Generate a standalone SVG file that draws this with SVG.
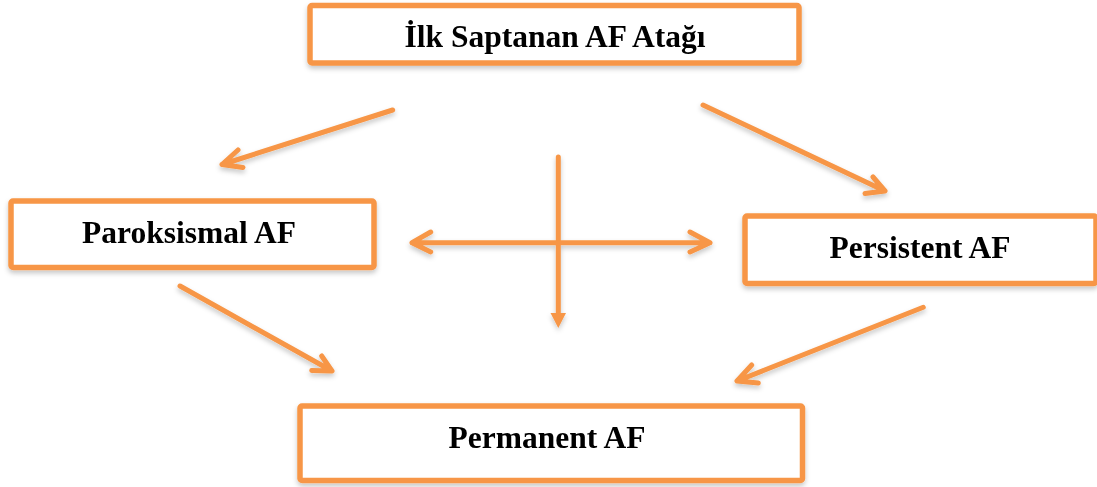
<svg xmlns="http://www.w3.org/2000/svg" width="1097" height="487" viewBox="0 0 1097 487">
  <style>
    .box { fill: #ffffff; stroke: #F79646; stroke-width: 5.5; }
    .lbl { font-family: "Liberation Serif", "Times New Roman", serif; font-weight: bold; font-size: 31.5px; fill: #000000; text-anchor: middle; }
    .ln { fill: none; stroke: #F79646; stroke-width: 5; stroke-linecap: round; stroke-linejoin: round; }
    .hd { fill: #F79646; stroke: none; }
  </style>
  <defs>
    <filter id="sh" x="-20%" y="-20%" width="140%" height="160%">
      <feDropShadow dx="0" dy="3" stdDeviation="2.5" flood-color="#000000" flood-opacity="0.22"/>
    </filter>
  </defs>
  <rect width="1097" height="487" fill="#ffffff"/>

  <g id="node-ilk" filter="url(#sh)">
    <rect class="box" x="310" y="5.5" width="489" height="57.5" rx="2"/>
    <text class="lbl" x="555" y="46.5">İlk Saptanan AF Atağı</text>
  </g>

  <g id="node-paroksismal" filter="url(#sh)">
    <rect class="box" x="11" y="201" width="363" height="66.5" rx="2"/>
    <text class="lbl" x="189" y="243">Paroksismal AF</text>
  </g>

  <g id="node-persistent" filter="url(#sh)">
    <rect class="box" x="745" y="216" width="351" height="67.5" rx="2"/>
    <text class="lbl" x="920" y="258.3">Persistent AF</text>
  </g>

  <g id="node-permanent" filter="url(#sh)">
    <rect class="box" x="300" y="406" width="502.5" height="74.5" rx="2"/>
    <text class="lbl" x="547" y="448">Permanent AF</text>
  </g>

  <g id="connectors" filter="url(#sh)">
    <!-- top to paroksismal -->
    <path class="ln" d="M392.7,110 L222,164.5 M238,150 L222,164.5 L243,167.5"/>
    <!-- top to persistent -->
    <path class="ln" d="M703,105 L885,191 M873,177 L885,191 L865,193.5"/>
    <!-- vertical arrow -->
    <path class="ln" d="M558.3,157 L558.3,314"/>
    <polygon class="hd" points="550.5,313 566,313 558.3,328"/>
    <!-- horizontal double arrow -->
    <path class="ln" d="M412,242.7 L710,242.7 M430.7,232 L412,242.7 L430.7,252 M690,232 L710,242.7 L690,252"/>
    <!-- paroksismal to permanent -->
    <path class="ln" d="M180,286 L332,371 M321.7,356 L332,371 L311.7,370.5"/>
    <!-- persistent to permanent -->
    <path class="ln" d="M923.3,307.3 L737,381 M751.7,365 L737,381 L758.3,383"/>
  </g>
</svg>
